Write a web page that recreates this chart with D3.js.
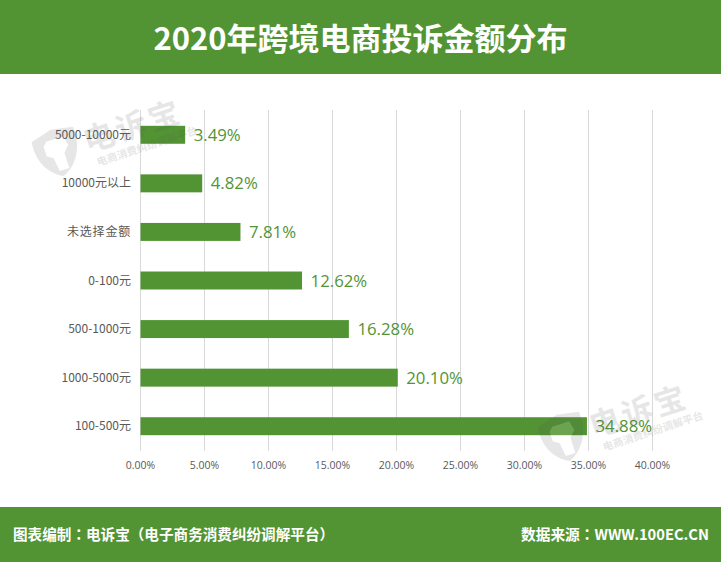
<!DOCTYPE html>
<html>
<head>
<meta charset="utf-8">
<script src="https://cdn.jsdelivr.net/npm/d3@7"></script>
<style>
  html, body { margin: 0; padding: 0; background: #fff; }
  svg { display: block; }
  text { font-family: "Noto Sans CJK SC", "Open Sans", sans-serif; }
  .latin { font-family: "Open Sans", "Noto Sans CJK SC", sans-serif; }
  .foot { font-family: "Noto Sans CJK TC", sans-serif; }
</style>
</head>
<body>
<script>
// chart data, top to bottom
const categories = ["5000-10000元", "10000元以上", "未选择金额", "0-100元", "500-1000元", "1000-5000元", "100-500元"];
const values = [3.49, 4.82, 7.81, 12.62, 16.28, 20.10, 34.88];
const ticks = [0, 5, 10, 15, 20, 25, 30, 35, 40];

const title = "2020年跨境电商投诉金额分布";
const footLeft = "图表编制：电诉宝（电子商务消费纠纷调解平台）";
const footRight = "数据来源：WWW.100EC.CN";

const w = 721;
const h = 562;
const green = "#529434";

const svg = d3.select("body").append("svg")
  .attr("width", w)
  .attr("height", h);

svg.append("rect").attr("width", w).attr("height", h).attr("fill", "#fff");

// header and footer bands
svg.append("rect").attr("width", w).attr("height", 74).attr("fill", green);
svg.append("rect").attr("y", 507).attr("width", w).attr("height", 55).attr("fill", green);

svg.append("text")
  .text(title)
  .attr("x", w / 2)
  .attr("y", 50)
  .attr("text-anchor", "middle")
  .attr("font-size", 31)
  .attr("font-weight", 700)
  .attr("fill", "#fff");

svg.append("text")
  .text(footLeft)
  .attr("class", "foot")
  .attr("x", 13)
  .attr("y", 540)
  .attr("font-size", 14.6)
  .attr("font-weight", 700)
  .attr("fill", "#fff");

svg.append("text")
  .text(footRight)
  .attr("class", "foot")
  .attr("x", 709)
  .attr("y", 540)
  .attr("text-anchor", "end")
  .attr("font-size", 14.7)
  .attr("font-weight", 700)
  .attr("fill", "#fff");

// scales
const x = d3.scaleLinear().domain([0, 40]).range([140.5, 652.5]);
const y = d3.scaleBand().domain(categories).range([110.5, 450.5]).paddingInner(0.63).paddingOuter(0.315);

// gridlines
svg.append("g")
  .selectAll("line")
  .data(ticks)
  .enter()
  .append("line")
  .attr("x1", d => x(d))
  .attr("x2", d => x(d))
  .attr("y1", 110)
  .attr("y2", 451)
  .attr("stroke", "#d9d9d9")
  .attr("stroke-width", 1);

// bars
svg.append("g")
  .selectAll("rect")
  .data(values)
  .enter()
  .append("rect")
  .attr("x", x(0))
  .attr("y", (d, i) => y(categories[i]))
  .attr("width", d => x(d) - x(0))
  .attr("height", y.bandwidth())
  .attr("fill", green);

// value labels
svg.append("g")
  .selectAll("text")
  .data(values)
  .enter()
  .append("text")
  .text(d => d.toFixed(2) + "%")
  .attr("class", "latin")
  .attr("x", d => x(d) + 8.5)
  .attr("y", (d, i) => y(categories[i]) + y.bandwidth() / 2 + 6)
  .attr("font-size", 16.8)
  .attr("fill", green);

// category labels, the all-chinese one is spaced wider in the original
svg.append("g")
  .selectAll("text")
  .data(categories)
  .enter()
  .append("text")
  .text(d => d)
  .attr("x", 131)
  .attr("y", d => y(d) + y.bandwidth() / 2 + 4)
  .attr("text-anchor", "end")
  .attr("font-size", 12)
  .attr("letter-spacing", d => /\d/.test(d) ? 0 : 0.8)
  .attr("fill", "#595959");

// x axis labels
svg.append("g")
  .selectAll("text")
  .data(ticks)
  .enter()
  .append("text")
  .text(d => d.toFixed(2) + "%")
  .attr("class", "latin")
  .attr("x", d => x(d))
  .attr("y", 469)
  .attr("text-anchor", "middle")
  .attr("font-size", 10.5)
  .attr("fill", "#595959");

// watermarks
function watermark(tx, ty) {
  const g = svg.append("g")
    .attr("transform", "translate(" + tx + "," + ty + ") rotate(-18)")
    .attr("opacity", 0.14)
    .attr("fill", "#555");
  g.append("path")
    .attr("d", "M-24,-18 L-2,-24 L20,-20 C22,0 12,18 -4,24 C-20,16 -26,0 -24,-18 Z");
  g.append("path")
    .attr("d", "M-14,-10 L-10,-14 L8,-14 L10,-4 L4,2 L4,18 L-6,18 L-8,4 L-14,0 Z")
    .attr("fill", "#fff");
  g.append("text")
    .text("电诉宝")
    .attr("x", 26)
    .attr("y", 9)
    .attr("font-size", 31)
    .attr("font-weight", 700)
    .attr("letter-spacing", 3);
  g.append("text")
    .text("电商消费纠纷调解平台")
    .attr("x", 32)
    .attr("y", 25)
    .attr("font-size", 10.5)
    .attr("font-weight", 700);
}
watermark(60, 152);
watermark(566, 437);
</script>
</body>
</html>
